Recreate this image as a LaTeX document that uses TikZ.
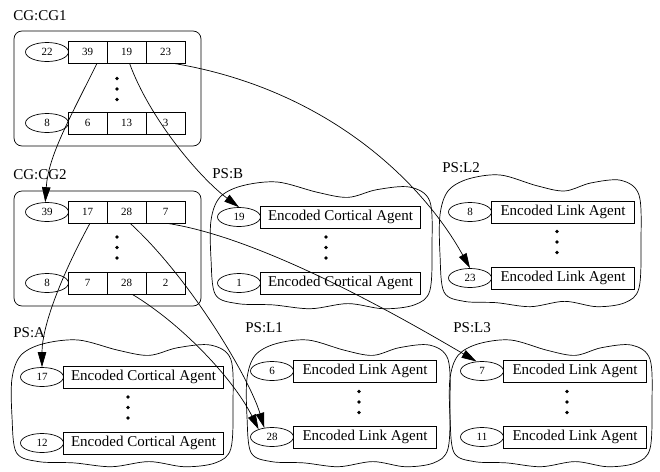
\documentclass[tikz,border=0pt]{standalone}
\usepackage{fontspec}
\setmainfont{Liberation Serif}
\usepackage{tikz}
\usetikzlibrary{shapes.geometric,arrows.meta}

\newcommand{\pscloud}[4]{%
  \draw [shift={(#1,#2)}, xscale=#3, yscale=#4] plot [smooth cycle, tension=0.55] coordinates {
    (0.00,0.30) (0.04,0.12) (0.14,0.03) (0.30,0.00) (0.48,0.08) (0.62,0.12)
    (0.75,0.06) (0.90,0.04) (0.99,0.15) (1.00,0.50) (0.99,0.85) (0.92,0.96)
    (0.78,0.99) (0.62,0.95) (0.45,0.99) (0.28,0.96) (0.12,0.95) (0.02,0.88)
    (0.00,0.60)};}

\tikzset{
  numell/.style={ellipse, draw, inner sep=0pt, minimum width=43pt, minimum height=19pt, font=\fontsize{11}{13}\selectfont},
  cell/.style={rectangle, draw, inner sep=0pt, minimum width=39pt, minimum height=22pt, font=\fontsize{11}{13}\selectfont},
  agent/.style={rectangle, draw, inner sep=0pt, minimum height=22pt, font=\fontsize{15}{18}\selectfont},
  grplbl/.style={anchor=base west, inner sep=0pt, font=\fontsize{15}{18}\selectfont},
  pdot/.style={circle, fill, inner sep=0pt, minimum size=3.6pt},
  cgbox/.style={draw, rounded corners=8pt},
  link/.style={-{Triangle[length=15pt, width=8.5pt]}, line width=0.7pt}
}

\begin{document}
\begin{tikzpicture}[x=1pt, y=-1pt, line width=0.7pt]
      \useasboundingbox (0,0) rectangle (660,471);
      %\draw [dotted] (0,0) grid [step=20] (660,471);
      % groups
      \node [grplbl]         (lcg1) at ( 13,  20) {CG:CG1};
      \draw [cgbox] (14,31) rectangle (201,146);
      \node [grplbl]         (lcg2) at ( 13, 179) {CG:CG2};
      \draw [cgbox] (14,191) rectangle (201,306);
      \node [grplbl]          (lpb) at (212, 178) {PS:B};
      \pscloud{211}{182}{221}{128}
      \node [grplbl]         (lpl2) at (442, 172) {PS:L2};
      \pscloud{440}{175}{201}{133}
      \node [grplbl]          (lpa) at ( 13, 337) {PS:A};
      \pscloud{12}{340}{221}{128}
      \node [grplbl]         (lpl1) at (245, 332) {PS:L1};
      \pscloud{247}{340}{203}{128}
      \node [grplbl]         (lpl3) at (453, 332) {PS:L3};
      \pscloud{450}{340}{202}{128}
      % CG:CG1
      \node [numell]          (e1a) at ( 47,  52) {22};
      \node [cell]           (c1a1) at ( 87.5, 52) {39};
      \node [cell]           (c1a2) at (126.5, 52) {19};
      \node [cell]           (c1a3) at (165.5, 52) {23};
      \node [numell]          (e1b) at ( 47, 123) {8};
      \node [cell]           (c1b1) at ( 87.5,123) {6};
      \node [cell]           (c1b2) at (126.5,123) {13};
      \node [cell]           (c1b3) at (165.5,123) {3};
      % CG:CG2
      \node [numell]          (e2a) at ( 47, 212) {39};
      \node [cell]           (c2a1) at ( 87.5,212) {17};
      \node [cell]           (c2a2) at (126.5,212) {28};
      \node [cell]           (c2a3) at (165.5,212) {7};
      \node [numell]          (e2b) at ( 47, 283) {8};
      \node [cell]           (c2b1) at ( 87.5,283) {7};
      \node [cell]           (c2b2) at (126.5,283) {28};
      \node [cell]           (c2b3) at (165.5,283) {2};
      % PS:B
      \node [numell]          (nba) at (239, 217) {19};
      \node [agent, minimum width=160pt] (aba) at (340.5,217) {Encoded Cortical Agent};
      \node [numell]          (nbb) at (239, 283) {1};
      \node [agent, minimum width=160pt] (abb) at (340.5,283) {Encoded Cortical Agent};
      % PS:L2
      \node [numell]         (nl2a) at (470, 212) {8};
      \node [agent, minimum width=143pt] (al2a) at (563,212) {Encoded Link Agent};
      \node [numell]         (nl2b) at (470, 278) {23};
      \node [agent, minimum width=143pt] (al2b) at (563,278) {Encoded Link Agent};
      % PS:A
      \node [numell]          (naa) at ( 42, 377) {17};
      \node [agent, minimum width=160pt] (aaa) at (143.5,377) {Encoded Cortical Agent};
      \node [numell]          (nab) at ( 42, 443) {12};
      \node [agent, minimum width=160pt] (aab) at (143.5,443) {Encoded Cortical Agent};
      % PS:L1
      \node [numell]         (nl1a) at (272, 371) {6};
      \node [agent, minimum width=143pt] (al1a) at (365,371) {Encoded Link Agent};
      \node [numell]         (nl1b) at (272, 437) {28};
      \node [agent, minimum width=143pt] (al1b) at (365,437) {Encoded Link Agent};
      % PS:L3
      \node [numell]         (nl3a) at (482, 371) {7};
      \node [agent, minimum width=143pt] (al3a) at (575,371) {Encoded Link Agent};
      \node [numell]         (nl3b) at (482, 437) {11};
      \node [agent, minimum width=143pt] (al3b) at (575,437) {Encoded Link Agent};
      % vertical ellipses
      \foreach \g/\x/\y in {cgA/117/89, cgB/117/247.5, psB/326/247.5, psLb/557/242,
                            psA/128/407.5, psLa/359/402, psLc/567/402}
        \foreach \k/\dy in {1/-10.5, 2/0, 3/10.5}
          \node [pdot] (\g\k) at (\x,\y+\dy) {};
      % links
      \draw [link] (c1a1.-50) .. controls +(-30,60) and +(3,-45) .. (e2a.100);
      \draw [link] (c1a2.-75) .. controls +(20,55) and +(-40,-30) .. (nba.north);
      \draw [link] (c1a3.-55) .. controls +(150,25) and +(-50,-90) .. (nl2b.north);
      \draw [link] (c2a1.-78) .. controls +(-30,55) and +(0,-40) .. (naa.north);
      \draw [link] (c2a2.-72) .. controls +(60,55) and +(-15,-50) .. (nl1b.130);
      \draw [link] (c2b2.-63) .. controls +(50,30) and +(-25,-50) .. (nl1b.150);
      \draw [link] (c2a3.-82) .. controls +(100,15) and +(-60,-35) .. (nl3a.120);
\end{tikzpicture}
\end{document}
